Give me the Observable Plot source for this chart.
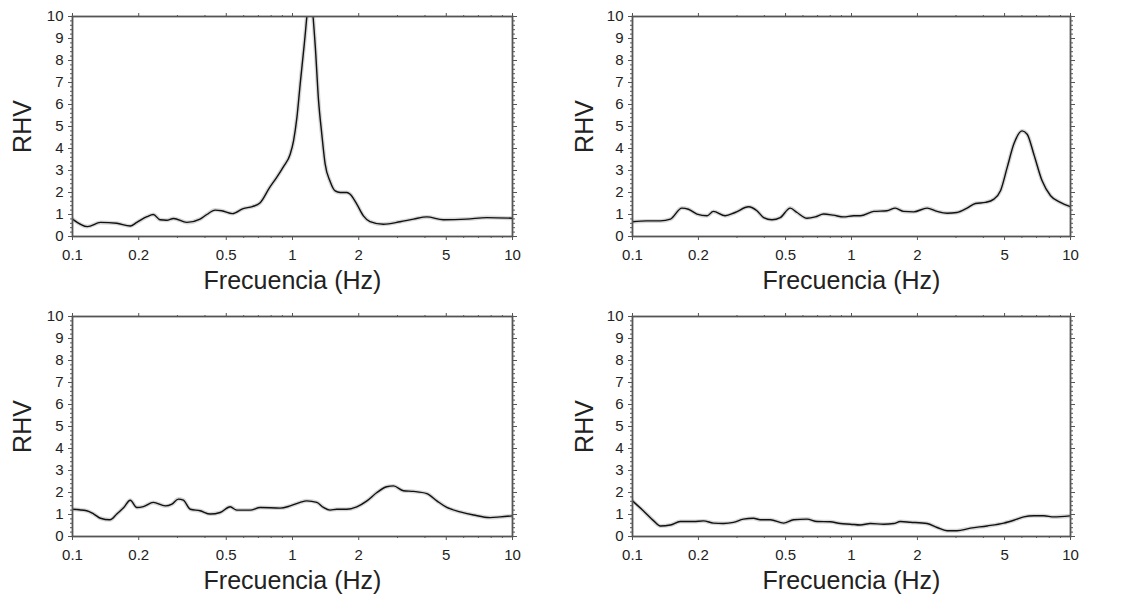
<!DOCTYPE html>
<html>
<head>
<meta charset="utf-8">
<script src="https://cdn.jsdelivr.net/npm/d3@7"></script>
<script src="https://cdn.jsdelivr.net/npm/@observablehq/plot@0.6"></script>
<style>
  html, body { margin: 0; padding: 0; background: #fff; }
  #grid { display: grid; grid-template-columns: 562px 562px; width: 1124px; }
  svg { display: block; }
</style>
</head>
<body>
<div id="grid"></div>
<script>
// Panel 1
const freq1 = [0.1,0.117,0.134,0.159,0.183,0.196,0.218,0.233,0.25,0.268,0.288,0.331,0.38,0.408,0.445,0.477,0.534,0.597,0.657,0.711,0.784,0.849,0.91,0.976,1.011,1.047,1.083,1.13,1.203,1.268,1.313,1.359,1.407,1.483,1.563,1.647,1.766,1.829,1.96,2.1,2.25,2.59,3.08,3.55,4.08,4.85,6.19,7.64,10];
const rhv1  = [0.79,0.45,0.64,0.6,0.48,0.64,0.9,1.0,0.76,0.74,0.82,0.64,0.79,1.0,1.2,1.17,1.04,1.27,1.36,1.52,2.2,2.7,3.18,3.74,4.35,5.4,6.9,8.7,11.0,8.7,6.2,4.65,3.3,2.5,2.07,2.0,2.0,1.92,1.47,0.94,0.68,0.56,0.67,0.79,0.89,0.76,0.79,0.86,0.83];
// Panel 2
const freq2 = [0.1,0.116,0.134,0.149,0.168,0.18,0.197,0.219,0.234,0.265,0.294,0.339,0.37,0.397,0.433,0.473,0.525,0.564,0.626,0.683,0.746,0.826,0.92,1.023,1.097,1.262,1.452,1.585,1.73,1.923,2.213,2.46,2.73,3.03,3.37,3.68,4.09,4.47,4.79,5.14,5.51,6.01,6.34,6.8,7.42,8.11,8.99,10];
const rhv2  = [0.67,0.71,0.71,0.79,1.29,1.24,1.02,0.94,1.14,0.94,1.09,1.35,1.17,0.86,0.76,0.86,1.29,1.09,0.83,0.89,1.02,0.97,0.89,0.94,0.94,1.14,1.17,1.29,1.14,1.12,1.29,1.14,1.06,1.09,1.29,1.5,1.55,1.7,2.08,3.14,4.2,4.8,4.65,3.74,2.53,1.85,1.55,1.35];
// Panel 3
const freq3 = [0.1,0.116,0.125,0.134,0.148,0.159,0.171,0.183,0.196,0.21,0.233,0.264,0.283,0.303,0.319,0.343,0.38,0.423,0.469,0.521,0.558,0.642,0.713,0.879,0.976,1.083,1.161,1.29,1.383,1.483,1.591,1.766,1.96,2.18,2.42,2.68,2.88,3.19,3.55,4.08,4.53,5.03,5.78,6.65,7.91,8.79,10];
const rhv3  = [1.24,1.17,1.02,0.83,0.76,1.02,1.32,1.65,1.32,1.36,1.55,1.39,1.47,1.7,1.65,1.24,1.17,1.02,1.09,1.35,1.2,1.2,1.32,1.29,1.39,1.55,1.62,1.55,1.32,1.2,1.24,1.24,1.35,1.62,2.0,2.26,2.3,2.08,2.05,1.95,1.62,1.32,1.12,0.98,0.86,0.89,0.94];
// Panel 4
const freq4 = [0.1,0.112,0.125,0.134,0.149,0.165,0.19,0.211,0.234,0.26,0.289,0.321,0.357,0.383,0.426,0.49,0.544,0.626,0.696,0.8,0.889,0.988,1.097,1.219,1.402,1.559,1.671,1.857,2.213,2.46,2.73,3.03,3.49,4.16,4.96,5.51,6.12,6.8,7.55,8.39,10];
const rhv4  = [1.62,1.17,0.71,0.48,0.52,0.68,0.68,0.71,0.61,0.59,0.64,0.79,0.83,0.76,0.76,0.61,0.76,0.79,0.68,0.67,0.59,0.56,0.52,0.59,0.56,0.59,0.68,0.65,0.59,0.41,0.26,0.26,0.38,0.48,0.61,0.74,0.89,0.94,0.94,0.89,0.94];

const xMajor = [0.1, 0.2, 0.5, 1, 2, 5, 10];
const xMinor = [0.3,0.4,0.6,0.7,0.8,0.9,3,4,6,7,8,9];
const yMajor = [0,1,2,3,4,5,6,7,8,9,10];
const yMinor = d3.range(0, 50).map(i => i / 5).filter(v => Math.abs(v - Math.round(v)) > 1e-6);
const xLabel = "Frecuencia (Hz)";
const yLabel = "RHV";

const panels = [
  {f: freq1, v: rhv1, ml: 72, mr: 50},
  {f: freq2, v: rhv2, ml: 70, mr: 54},
  {f: freq3, v: rhv3, ml: 72, mr: 50},
  {f: freq4, v: rhv4, ml: 70, mr: 54}
];

const font = "'Liberation Sans', Arial, Helvetica, sans-serif";
const fmt = d => String(d);
const blank = () => "";
const tickColor = "#555";

for (const p of panels) {
  const data = p.f.map((f, i) => ({f, v: p.v[i]}));
  const chart = Plot.plot({
    width: 562,
    height: 300,
    marginLeft: p.ml,
    marginRight: p.mr,
    marginTop: 16,
    marginBottom: 64,
    style: {fontFamily: font, color: "#222", background: "#fff"},
    x: {type: "log", domain: [0.1, 10]},
    y: {domain: [0, 10]},
    marks: [
      Plot.line(data, {x: "f", y: "v", curve: "monotone-x", stroke: "#bbb", strokeWidth: 4, strokeOpacity: 0.6, clip: true}),
      Plot.line(data, {x: "f", y: "v", curve: "monotone-x", stroke: "#111", strokeWidth: 1.4, clip: true}),
      Plot.axisX(xMajor, {anchor: "bottom", tickSize: 4, stroke: tickColor, tickFormat: blank, label: null}),
      Plot.axisX(xMinor, {anchor: "bottom", tickSize: 2, stroke: tickColor, tickFormat: blank, label: null}),
      Plot.axisX(xMajor, {anchor: "top", tickSize: 4, stroke: tickColor, tickFormat: blank, label: null}),
      Plot.axisX(xMinor, {anchor: "top", tickSize: 2, stroke: tickColor, tickFormat: blank, label: null}),
      Plot.axisY(yMajor, {anchor: "left", tickSize: 4, stroke: tickColor, tickFormat: blank, label: null}),
      Plot.axisY(yMinor, {anchor: "left", tickSize: 2, stroke: tickColor, tickFormat: blank, label: null}),
      Plot.axisY(yMajor, {anchor: "right", tickSize: 4, stroke: tickColor, tickFormat: blank, label: null}),
      Plot.axisY(yMinor, {anchor: "right", tickSize: 2, stroke: tickColor, tickFormat: blank, label: null}),
      Plot.frame({stroke: "#555", strokeWidth: 1.8}),
      Plot.text(xMajor, {x: d => d, frameAnchor: "bottom", dy: 19, text: fmt, fontSize: 15, fill: "#222", textAnchor: "middle", lineAnchor: "middle"}),
      Plot.text(yMajor, {y: d => d, frameAnchor: "left", dx: -9, text: fmt, fontSize: 15, fill: "#222", textAnchor: "end", lineAnchor: "middle"}),
      Plot.text([yLabel], {frameAnchor: "left", dx: -(p.ml - 22), rotate: -90, text: d => d, fontSize: 25, fill: "#222", textAnchor: "middle", lineAnchor: "middle"}),
      Plot.text([xLabel], {frameAnchor: "bottom", dy: 44, text: d => d, fontSize: 25, fill: "#222", textAnchor: "middle", lineAnchor: "middle"})
    ]
  });
  document.getElementById("grid").appendChild(chart);
}
</script>
</body>
</html>
